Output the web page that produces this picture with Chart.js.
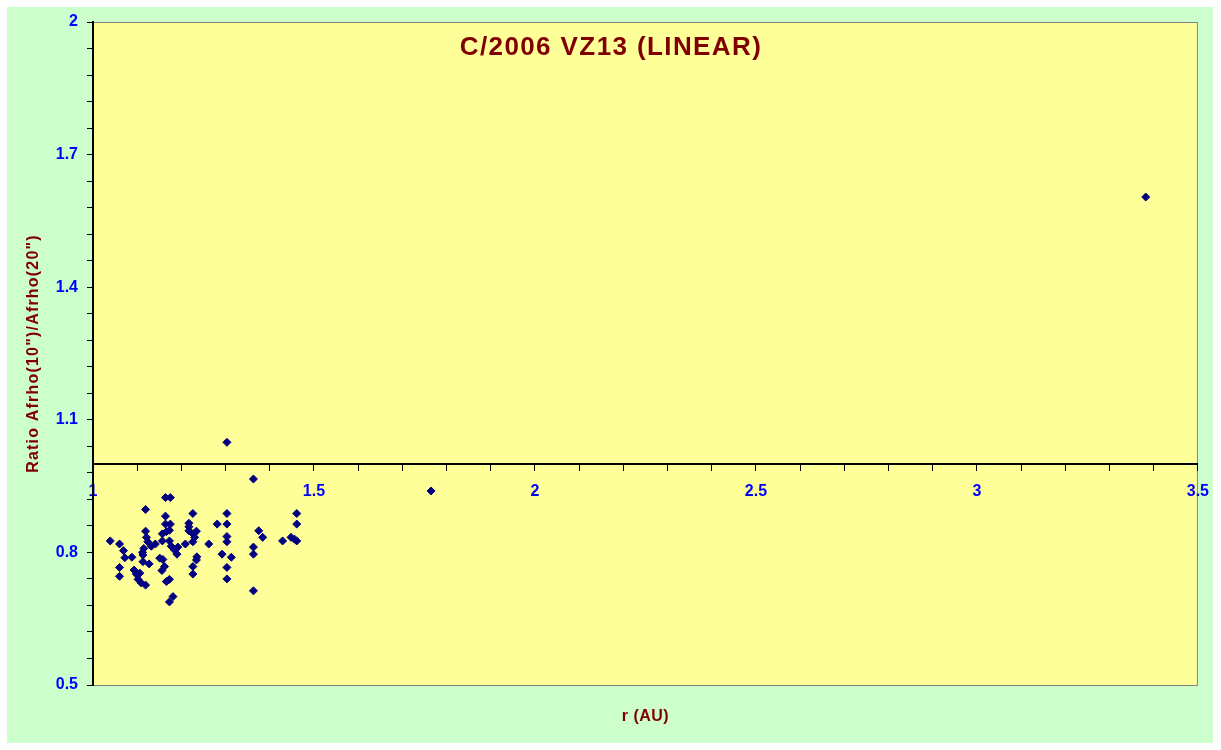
<!DOCTYPE html>
<html>
<head>
<meta charset="utf-8">
<script src="https://cdn.jsdelivr.net/npm/chart.js@4/dist/chart.umd.min.js"></script>
<style>
  html, body { margin: 0; padding: 0; background: #ffffff; }
  #wrap { width: 1221px; height: 750px; }
</style>
</head>
<body>
<div id="wrap"><canvas id="chart"></canvas></div>
<script>
const chartTitle = 'C/2006 VZ13 (LINEAR)';
const xTitle = 'r (AU)';
const yTitle = 'Ratio Afrho(10")/Afrho(20")';
const xTickLabels = ['1', '1.5', '2', '2.5', '3', '3.5'];
const yTickLabels = ['0.5', '0.8', '1.1', '1.4', '1.7', '2'];

// heliocentric distance (AU)
const rValues = [
    1.039, 1.060, 1.069, 1.072, 1.088, 1.060, 1.060, 1.093, 1.098, 1.102,
    1.109, 1.119, 1.113, 1.113, 1.127, 1.119, 1.119, 1.121, 1.124, 1.132,
    1.141, 1.151, 1.158, 1.162, 1.166, 1.173, 1.164, 1.175, 1.164, 1.164,
    1.175, 1.157, 1.166, 1.157, 1.173, 1.177, 1.185, 1.190, 1.192, 1.173,
    1.181, 1.209, 1.226, 1.217, 1.217, 1.217, 1.226, 1.234, 1.230, 1.226,
    1.235, 1.234, 1.226, 1.226, 1.262, 1.281, 1.292, 1.303, 1.303, 1.303,
    1.303, 1.303, 1.303, 1.303, 1.313, 1.363, 1.363, 1.363, 1.363, 1.375,
    1.384, 1.429, 1.448, 1.456, 1.461, 1.461, 1.461, 1.765, 3.382, 1.115,
    1.112, 1.156, 1.106, 1.173
];
// Afrho(10")/Afrho(20")
const ratioValues = [
    0.826, 0.819, 0.804, 0.788, 0.789, 0.766, 0.746, 0.760, 0.751, 0.739,
    0.731, 0.726, 0.779, 0.794, 0.774, 0.897, 0.848, 0.834, 0.824, 0.814,
    0.819, 0.787, 0.784, 0.768, 0.734, 0.739, 0.924, 0.924, 0.882, 0.864,
    0.864, 0.842, 0.847, 0.826, 0.826, 0.814, 0.805, 0.796, 0.812, 0.688,
    0.700, 0.819, 0.888, 0.866, 0.858, 0.849, 0.842, 0.848, 0.834, 0.824,
    0.790, 0.783, 0.768, 0.751, 0.819, 0.864, 0.796, 1.049, 0.888, 0.864,
    0.836, 0.824, 0.766, 0.740, 0.789, 0.966, 0.812, 0.796, 0.713, 0.849,
    0.834, 0.826, 0.834, 0.830, 0.826, 0.888, 0.864, 0.939, 1.604, 0.809,
    0.800, 0.759, 0.753, 0.850
];

const fontFamily = '"Liberation Sans", Arial, sans-serif';
const darkRed = '#800000';

const backdrop = {
    id: 'backdrop',
    beforeDraw(chart) {
        const c = chart.ctx;
        const a = chart.chartArea;
        c.save();
        c.fillStyle = '#ccffcc';
        c.fillRect(7, 7, 1206, 736);
        c.fillStyle = '#ffff99';
        c.fillRect(a.left, a.top, a.right - a.left, a.bottom - a.top);
        c.strokeStyle = '#808080';
        c.lineWidth = 1;
        c.strokeRect(a.left + 0.5, a.top + 0.5, a.right - a.left - 1, a.bottom - a.top);
        c.restore();
    },
    afterDraw(chart) {
        const c = chart.ctx;
        const a = chart.chartArea;
        c.save();
        c.fillStyle = darkRed;
        c.textAlign = 'center';
        c.textBaseline = 'middle';
        c.font = 'bold 26px ' + fontFamily;
        c.letterSpacing = '1.4px';
        c.fillText(chartTitle, 611, 48);
        c.font = 'bold 16px ' + fontFamily;
        c.letterSpacing = '0.5px';
        c.fillText(xTitle, (a.left + a.right) / 2, 717);
        c.letterSpacing = '1.2px';
        c.translate(34, (a.top + a.bottom) / 2);
        c.rotate(-Math.PI / 2);
        c.fillText(yTitle, 0, 0);
        c.restore();
    }
};

new Chart(document.getElementById('chart'), {
    type: 'scatter',
    data: {
        datasets: [{
            data: rValues.map((r, i) => ({x: r, y: ratioValues[i]})),
            pointStyle: 'rectRot',
            pointRadius: 4,
            pointBorderWidth: 1,
            backgroundColor: '#000080',
            borderColor: '#000080'
        }]
    },
    options: {
        responsive: true,
        maintainAspectRatio: false,
        animation: false,
        layout: {
            padding: {left: 0, top: 22, right: 22, bottom: 65}
        },
        scales: {
            x: {
                type: 'linear',
                position: {y: 1},
                min: 1,
                max: 3.5,
                grid: {
                    drawOnChartArea: false,
                    tickLength: 6,
                    tickWidth: 1,
                    tickColor: '#000000'
                },
                border: {color: '#000000', width: 2},
                ticks: {
                    stepSize: 0.1,
                    autoSkip: false,
                    maxRotation: 0,
                    padding: 12,
                    color: '#0000ff',
                    font: {family: fontFamily, size: 16, weight: 'bold'},
                    callback: (value, index) => index % 5 === 0 ? xTickLabels[index / 5] : ''
                }
            },
            y: {
                type: 'linear',
                position: 'left',
                min: 0.5,
                max: 2,
                afterFit(scale) { scale.width = 93; },
                grid: {
                    drawOnChartArea: false,
                    tickLength: 6,
                    tickWidth: 1,
                    tickColor: '#000000'
                },
                border: {color: '#000000', width: 2},
                ticks: {
                    stepSize: 0.06,
                    autoSkip: false,
                    padding: 9,
                    color: '#0000ff',
                    font: {family: fontFamily, size: 16, weight: 'bold'},
                    callback: (value, index) => index % 5 === 0 ? yTickLabels[index / 5] : ''
                }
            }
        },
        plugins: {
            legend: {display: false},
            tooltip: {enabled: false},
            title: {display: false}
        }
    },
    plugins: [backdrop]
});
</script>
</body>
</html>
